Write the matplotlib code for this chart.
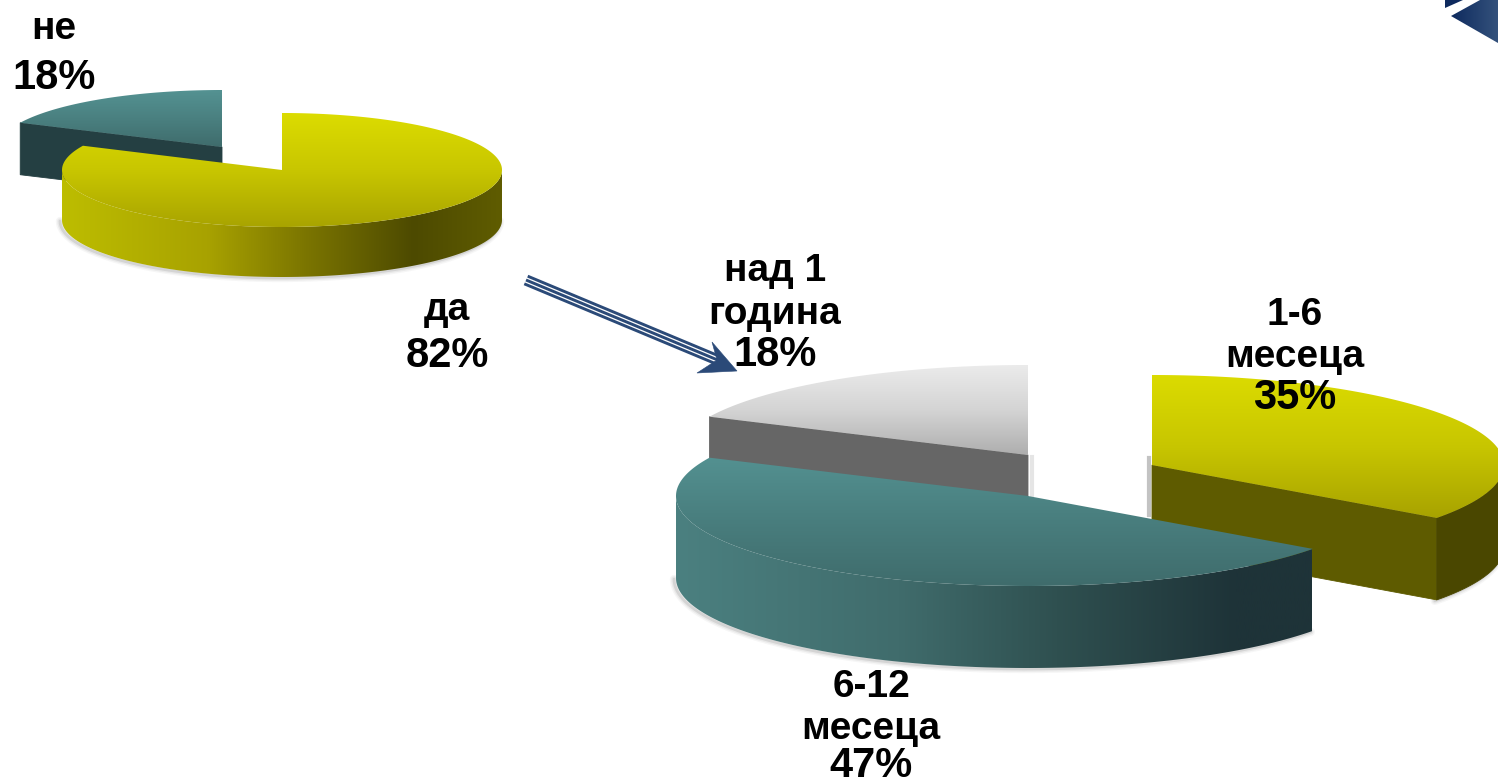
import numpy as np
import matplotlib
matplotlib.use("Agg")
import matplotlib.pyplot as plt
from matplotlib.patches import Polygon
from matplotlib.colors import LinearSegmentedColormap as LSC

plt.rcParams['font.family'] = ['Liberation Sans', 'DejaVu Sans']

# data
first_names = ["да", "не"]
first_shares = [82, 18]
second_names = ["1-6\nмесеца", "6-12\nмесеца", "над 1\nгодина"]
second_shares = [35, 47, 18]

W, H = 1498, 783
fig = plt.figure(figsize=(W / 100, H / 100), dpi=100)
ax = fig.add_axes([0, 0, 1, 1])
ax.set_xlim(0, W)
ax.set_ylim(H, 0)
ax.axis("off")

INK = "#000000"
NAVY = "#2b4a78"


def spans(shares):
    edges = np.cumsum([0] + list(shares)) / sum(shares) * 360.0
    return list(zip(edges[:-1], edges[1:]))


def rim(c, rx, ry, a0, a1, n=160):
    t = np.radians(np.linspace(a0, a1, n))
    return np.column_stack([c[0] + rx * np.sin(t), c[1] - ry * np.cos(t)])


def fill_grad(pts, colors, box, vertical, z):
    poly = Polygon(pts, closed=True, transform=ax.transData, fc="none", ec="none")
    ax.add_patch(poly)
    g = np.linspace(0, 1, 256)
    g = g[:, None] if vertical else g[None, :]
    cmap = LSC.from_list("g", colors)
    im = ax.imshow(g, extent=(box[0], box[1], box[3], box[2]), cmap=cmap, vmin=0, vmax=1,
                   aspect="auto", interpolation="bilinear", zorder=z)
    im.set_clip_path(poly)
    ax.set_xlim(0, W)
    ax.set_ylim(H, 0)


def soft(pts, z, dx=-2, dy=1):
    for lw, al in ((6, .05), (4, .08), (2, .14)):
        ax.plot(pts[:, 0] + dx, pts[:, 1] + dy, color="#555555", lw=lw, alpha=al,
                solid_capstyle="round", zorder=z)


def slice3d(c, rx, ry, depth, a0, a1, top, ybox, z, outer=None, outer_span=None,
            outer_flat=None, cut=None, cut_at=None):
    if cut is not None:
        p = rim(c, rx, ry, cut_at, cut_at, 2)[0]
        ax.add_patch(Polygon([c, p, (p[0], p[1] + depth), (c[0], c[1] + depth)],
                             closed=True, fc=cut, ec=cut, lw=.6, zorder=z))
    lo, hi = max(a0, 90), min(a1, 270)
    if hi > lo:
        r = rim(c, rx, ry, lo, hi)
        low = r + [0, depth]
        soft(low, z - .5)
        wall = np.vstack([r, low[::-1]])
        if outer_flat is not None:
            ax.add_patch(Polygon(wall, closed=True, fc=outer_flat, ec=outer_flat, lw=.6, zorder=z + .1))
        else:
            fill_grad(wall, outer, (outer_span[0], outer_span[1], 0, H), False, z + .1)
    r = rim(c, rx, ry, a0, a1, 300)
    fill_grad(np.vstack([[c], r]), top, (c[0] - rx, c[0] + rx, ybox[0], ybox[1]), True, z + .2)


YEL_TOP = ["#dcdc00", "#c8c600", "#a8a300"]
TEAL_TOP = ["#549292", "#4a8080", "#3f6c6c"]
GRAY_TOP = ["#ebebeb", "#d4d4d4", "#aeaeae"]

s1 = spans(first_shares)
s2 = spans(second_shares)

# ---- upper pie
slice3d((222, 147), 223, 57, 52, *s1[1], TEAL_TOP, (90, 147), 2, cut="#243f42", cut_at=s1[1][0])
slice3d((282, 170), 220, 57, 50, *s1[0], YEL_TOP, (113, 228), 3,
        outer=[(0, "#bdbd00"), (.33, "#a8a200"), (.55, "#7c7600"), (.8, "#4d4a00"), (1, "#5f5c00")],
        outer_span=(62, 502))

# ---- lower pie
ax.plot([1032, 1032], [457, 495], color="#999999", lw=3, alpha=.25, zorder=1)
ax.plot([1149, 1149], [458, 515], color="#888888", lw=3, alpha=.5, zorder=1)
slice3d((1028, 455), 352, 90, 82, *s2[2], GRAY_TOP, (365, 455), 4, cut="#666666", cut_at=s2[2][0])
slice3d((1152, 465), 352, 90, 82, *s2[0], YEL_TOP, (373, 518), 5,
        outer_flat="#4a4700", cut="#5e5b00", cut_at=s2[0][1])
slice3d((1028, 496), 352, 90, 82, *s2[1], [(0, "#549292"), (.45, "#4a8080"), (1, "#3f6c6c")],
        (453, 586), 6,
        outer=[(0, "#4b8080"), (.35, "#406c6c"), (.6, "#2f5050"), (.88, "#1e3338"), (1, "#1e3338")],
        outer_span=(676, 1312))

# ---- connector arrow
for off in (-4.2, 0, 4.2):
    ax.plot([526 + off * .41, 720 + off * .41], [280 - off * .91, 361 - off * .91],
            color=NAVY, lw=2.1, solid_capstyle="butt", zorder=8)
ax.add_patch(Polygon([(737, 371), (712, 342), (717, 360), (697, 373)], closed=True,
                     fc=NAVY, ec=NAVY, lw=.4, zorder=9))

# ---- corner emblem
navy_map = ["#0e2a5e", "#34527c"]
fill_grad(np.array([(1451, 16), (1480, 0), (1498, 0), (1498, 43)]), navy_map, (1451, 1498, 0, 43), False, 8)
fill_grad(np.array([(1445, 0), (1463, 0), (1445, 8)]), navy_map[:1] * 2, (1445, 1463, 0, 8), False, 8)


# ---- labels
def label(x, baselines, name, share):
    words = name.split("\n")
    for line, y in zip(words, baselines):
        ax.text(x, y, line, ha="center", va="baseline", fontsize=28, fontweight="bold",
                color=INK, zorder=12)
    ax.text(x, baselines[-1], f"{share}%", ha="center", va="baseline", fontsize=30,
            fontweight="bold", color=INK, zorder=12)


label(54, (39, 89), first_names[1], first_shares[1])
label(447, (320, 367), first_names[0], first_shares[0])
label(775, (281, 324, 366), second_names[2], second_shares[2])
label(1295, (325, 367, 409), second_names[0], second_shares[0])
label(871, (697, 739, 777), second_names[1], second_shares[1])

fig.savefig("out.png", dpi=100, facecolor="white")
